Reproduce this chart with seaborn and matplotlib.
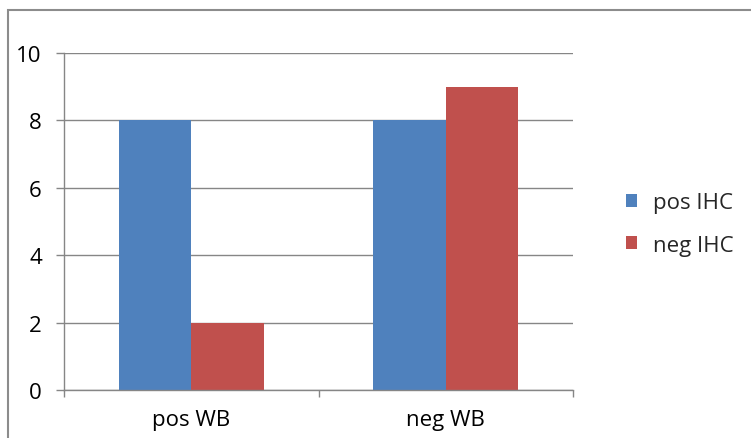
import matplotlib
matplotlib.use("Agg")
import matplotlib.pyplot as plt
import pandas as pd
import seaborn as sns
from matplotlib.patches import Rectangle

# data
categories = ["pos WB", "neg WB"]
series = ["pos IHC", "neg IHC"]
pos_ihc = [8, 8]
neg_ihc = [2, 9]
y_ticks = [0, 2, 4, 6, 8, 10]

colors = ["#4F81BD", "#C0504D"]
grid_col = "#868686"

df = pd.DataFrame({
    "wb": categories * 2,
    "ihc": [series[0]] * 2 + [series[1]] * 2,
    "count": pos_ihc + neg_ihc,
})

sns.set_style("white")
plt.rcParams["font.family"] = ["Open Sans", "DejaVu Sans"]
fs = 16

W, H = 751, 439
fig = plt.figure(figsize=(W / 100, H / 100), dpi=100)
ax = fig.add_axes([64 / W, (H - 391) / H, (573 - 64) / W, (391 - 54) / H])

sns.barplot(data=df, x="wb", y="count", hue="ihc", palette=colors,
            saturation=1, width=0.57, linewidth=0, ax=ax, legend=True)

ax.set_xlim(-0.5, 1.5)
ax.set_ylim(0, 10)
ax.set_yticks(y_ticks)
ax.set_yticklabels([str(t) for t in y_ticks], fontsize=fs, color="black")
ax.yaxis.grid(True, color=grid_col, linewidth=1)
ax.set_axisbelow(True)
ax.tick_params(axis="y", length=6, width=1, color=grid_col, pad=10, left=True)

# category boundaries get ticks, names sit between them
ax.set_xticks([-0.5, 0.5, 1.5])
ax.set_xticklabels(["", "", ""])
ax.set_xticks([0, 1], minor=True)
ax.set_xticklabels(categories, minor=True, fontsize=fs, color="black")
ax.tick_params(axis="x", which="major", length=5, width=1, color=grid_col, bottom=True)
ax.tick_params(axis="x", which="minor", length=0, pad=14)
ax.set_xlabel("")
ax.set_ylabel("")

for s in ["top", "right"]:
    ax.spines[s].set_visible(False)
for s in ["left", "bottom"]:
    ax.spines[s].set_color(grid_col)
    ax.spines[s].set_linewidth(1)

handles, labels = ax.get_legend_handles_labels()
ax.legend(handles, labels, loc="center left", bbox_to_anchor=(617 / W, 1 - 225 / H),
          bbox_transform=fig.transFigure, frameon=False, fontsize=fs,
          handlelength=0.5, handleheight=0.5, handletextpad=0.7,
          labelspacing=0.95, borderaxespad=0)

# outer chart border, cut off on the right and bottom like the reference
fig.patches.append(Rectangle((8 / W, -0.1), 1.2, 1 - 11 / H + 0.1,
                             transform=fig.transFigure, fill=False,
                             edgecolor="#8C8C8C", linewidth=1.5))

fig.savefig("out.png", dpi=100)
